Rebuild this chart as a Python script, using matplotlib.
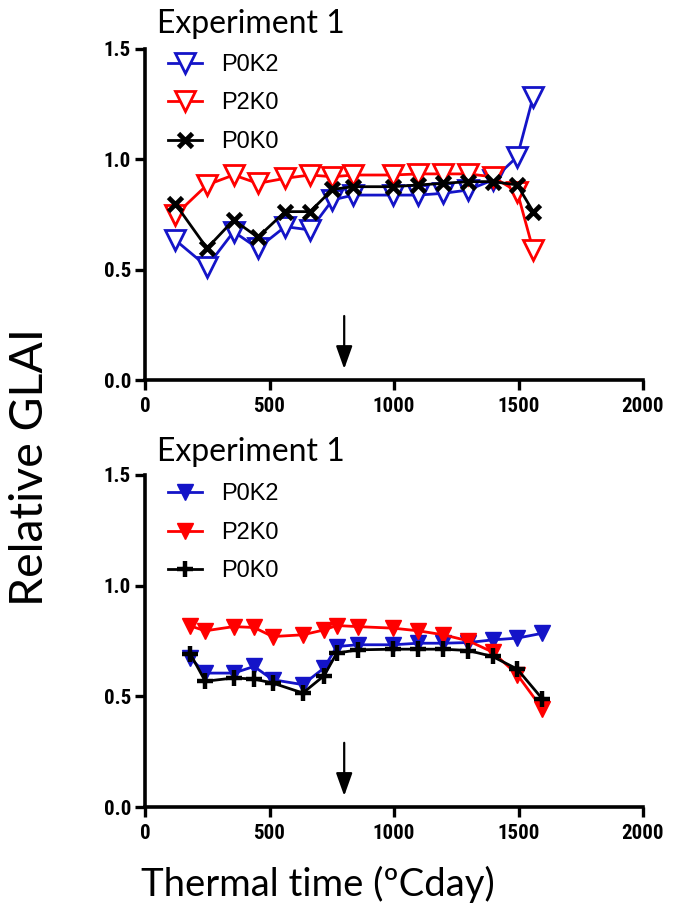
import matplotlib
matplotlib.use("Agg")
import matplotlib.pyplot as plt
from matplotlib import font_manager as fm

# ---------------- data ----------------
x_top = [122, 249, 356, 453, 563, 663, 753, 837, 997, 1098, 1198, 1298, 1396, 1495, 1559]
top_P0K2 = [0.634, 0.514, 0.672, 0.597, 0.695, 0.680, 0.816, 0.838, 0.838, 0.838, 0.846, 0.861, 0.906, 1.012, 1.284]
top_P2K0 = [0.748, 0.884, 0.929, 0.891, 0.914, 0.929, 0.921, 0.929, 0.929, 0.934, 0.934, 0.934, 0.921, 0.853, 0.589]
top_P0K0 = [0.798, 0.597, 0.725, 0.647, 0.763, 0.763, 0.864, 0.876, 0.876, 0.884, 0.891, 0.899, 0.899, 0.884, 0.763]

x_bot = [182, 242, 356, 438, 513, 634, 719, 770, 854, 997, 1098, 1198, 1298, 1396, 1495, 1596]
bot_P0K2 = [0.673, 0.605, 0.605, 0.635, 0.575, 0.553, 0.628, 0.725, 0.733, 0.733, 0.740, 0.740, 0.743, 0.755, 0.763, 0.785]
bot_P2K0 = [0.818, 0.796, 0.815, 0.811, 0.770, 0.778, 0.800, 0.820, 0.815, 0.808, 0.796, 0.778, 0.751, 0.700, 0.598, 0.443]
bot_P0K0 = [0.692, 0.568, 0.583, 0.578, 0.560, 0.515, 0.593, 0.695, 0.710, 0.713, 0.713, 0.713, 0.707, 0.680, 0.623, 0.488]

series_names = ["P0K2", "P2K0", "P0K0"]
arrow_x = 800
arrow_y_start = 0.29
arrow_y_end = 0.05

x_ticks = [0, 500, 1000, 1500, 2000]
x_tick_labels = ["0", "500", "1000", "1500", "2000"]
y_ticks = [0.0, 0.5, 1.0, 1.5]
y_tick_labels = ["0.0", "0.5", "1.0", "1.5"]
panel_title = "Experiment 1"
ylabel = "Relative GLAI"
xlabel = "Thermal time (ºCday)"

# ---------------- style ----------------
names = {f.name for f in fm.fontManager.ttflist}
tick_font = "Liberation Sans"
for cand in ["Liberation Sans Narrow", "Roboto Condensed", "Open Sans Condensed"]:
    if cand in names:
        tick_font = cand
        break
label_font = "Lato" if "Lato" in names else "DejaVu Sans"
BLUE = "#1414c8"
RED = "#ff0000"
BLACK = "#000000"

W, H = 674, 913
fig = plt.figure(figsize=(W / 100, H / 100), dpi=100)

def px_axes(left, top, right, bottom):
    return fig.add_axes([left / W, 1 - bottom / H, (right - left) / W, (bottom - top) / H])

ax1 = px_axes(145, 49, 643, 380)
ax2 = px_axes(145, 475, 643, 807)

def style_axes(ax):
    ax.set_xlim(0, 2000)
    ax.set_ylim(0, 1.5)
    for s in ["top", "right"]:
        ax.spines[s].set_visible(False)
    for s in ["left", "bottom"]:
        ax.spines[s].set_linewidth(2.6)
    ax.set_xticks(x_ticks)
    ax.set_xticklabels(x_tick_labels)
    ax.set_yticks(y_ticks)
    ax.set_yticklabels(y_tick_labels)
    ax.tick_params(axis="both", direction="out", length=7, width=2.4)
    ax.tick_params(axis="x", pad=5)
    ax.tick_params(axis="y", pad=3)
    for lab in ax.get_xticklabels() + ax.get_yticklabels():
        lab.set_fontfamily(tick_font)
        lab.set_fontweight("bold")
        lab.set_fontsize(15)
    ax.patch.set_alpha(0)

style_axes(ax1)
style_axes(ax2)

# top panel: open markers
lw = 2.0
ax1.plot(x_top, top_P0K2, color=BLUE, lw=lw, marker="v", ms=14, mfc="white", mec=BLUE, mew=2.0, label=series_names[0], zorder=3)
ax1.plot(x_top, top_P2K0, color=RED, lw=lw, marker="v", ms=14, mfc="white", mec=RED, mew=2.0, label=series_names[1], zorder=3)
ax1.plot(x_top, top_P0K0, color=BLACK, lw=lw, marker="x", ms=10, mew=3.4, label=series_names[2], zorder=4)

# bottom panel: filled markers
ax2.plot(x_bot, bot_P0K2, color=BLUE, lw=lw, marker="v", ms=11, mfc=BLUE, mec=BLUE, label=series_names[0], zorder=3)
ax2.plot(x_bot, bot_P2K0, color=RED, lw=lw, marker="v", ms=11, mfc=RED, mec=RED, label=series_names[1], zorder=3)
ax2.plot(x_bot, bot_P0K0, color=BLACK, lw=lw, marker="+", ms=11, mew=3.2, label=series_names[2], zorder=4)

for ax, ly in [(ax1, 0.985), (ax2, 0.975)]:
    leg = ax.legend(loc="upper left", bbox_to_anchor=(0.046, ly), frameon=False,
                    borderaxespad=0, borderpad=0, handlelength=1.45, handletextpad=0.8,
                    labelspacing=0.70, prop={"family": "Liberation Sans", "size": 17})
    ax.annotate("", xy=(arrow_x, arrow_y_end), xytext=(arrow_x, arrow_y_start),
                arrowprops=dict(arrowstyle="-|>,head_length=1.4,head_width=0.5", color="black", lw=1.6,
                                shrinkA=0, shrinkB=0))

ax1.text(0.024, 1.075, panel_title, transform=ax1.transAxes, ha="left", va="center",
         fontsize=23, family=label_font)
ax2.text(0.024, 1.069, panel_title, transform=ax2.transAxes, ha="left", va="center",
         fontsize=23, family=label_font)

fig.text(30 / W, 1 - 467 / H, ylabel, rotation=90, ha="center", va="center",
         fontsize=33.5, family=label_font)
fig.text(318 / W, 1 - 884 / H, xlabel, ha="center", va="center",
         fontsize=27.5, family=label_font)

fig.savefig("out.png", dpi=100)
